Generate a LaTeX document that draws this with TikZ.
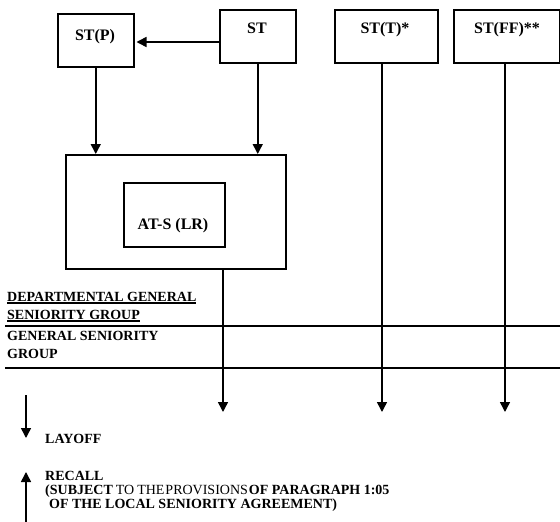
\documentclass[tikz,border=0pt]{standalone}
\usepackage{fontspec}
\setmainfont{Liberation Serif}
\usetikzlibrary{arrows.meta}
\newcommand\myul[1]{\setbox0\hbox{#1}\rlap{\rule[-2.6pt]{\wd0}{1.2pt}}\box0}
\begin{document}
\begin{tikzpicture}[x=1pt,y=-1pt,
  box/.style={draw,line width=1.5pt,rectangle,inner sep=0pt,anchor=north west},
  boxtext/.style={anchor=base,inner sep=0pt,font=\bfseries\fontsize{16}{18}\selectfont},
  lbl/.style={anchor=base west,inner sep=0pt,font=\bfseries\fontsize{14}{16}\selectfont},
  arr/.style={line width=1.5pt,-{Triangle[width=10pt,length=10pt]}},
  rule/.style={line width=1.5pt}]
\useasboundingbox (0,0) rectangle (560,522);
% top boxes
\node[box,minimum width=76pt,minimum height=53pt] (stp) at (57,13) {};
\node[box,minimum width=76pt,minimum height=53pt] (st) at (219,9) {};
\node[box,minimum width=103pt,minimum height=53pt] (stt) at (334,9) {};
\node[box,minimum width=106pt,minimum height=53pt] (stff) at (453,9) {};
\node[boxtext] (tstp) at (95,40) {ST(P)};
\node[boxtext] (tst) at (257,34) {ST};
\node[boxtext] (tstt) at (385,34) {ST(T)*};
\node[boxtext] (tstff) at (507,34) {ST(FF)**};
% big and inner box
\node[box,minimum width=220pt,minimum height=114pt] (big) at (65,154) {};
\node[box,minimum width=101pt,minimum height=64pt] (ats) at (123,182) {};
\node[boxtext] (tats) at (173,229) {AT-S (LR)};
% arrows
\coordinate (h) at (0,42);
\draw[arr,shorten >=2pt] (st.west |- h) -- (stp.east |- h);
\draw[arr] (stp.south) -- (stp.south |- big.north);
\draw[arr] (st.south) -- (st.south |- big.north);
\coordinate (e1) at (223,412);
\coordinate (e2) at (382,412);
\coordinate (e3) at (505,412);
\draw[arr] (big.south -| e1) -- (e1);
\draw[arr] (stt.south -| e2) -- (e2);
\draw[arr] (stff.south -| e3) -- (e3);
% horizontal rules
\coordinate (h1a) at (5,326); \coordinate (h1b) at (560,326);
\coordinate (h2a) at (5,368); \coordinate (h2b) at (560,368);
\draw[rule] (h1a) -- (h1b);
\draw[rule] (h2a) -- (h2b);
% group labels
\node[lbl] (d1) at (7,301) {\myul{DEPARTMENTAL GENERAL}};
\node[lbl] (d2) at (7,319) {\myul{SENIORITY GROUP}};
\node[lbl] (g1) at (7,340) {GENERAL SENIORITY};
\node[lbl] (g2) at (7,358) {GROUP};
% legend
\coordinate (lt) at (26,395); \coordinate (lb) at (26,438);
\draw[arr] (lt) -- (lb);
\node[lbl] (layoff) at (45,443) {LAYOFF};
\coordinate (rb) at (26,522); \coordinate (rt) at (26,472);
\draw[arr] (rb) -- (rt);
\node[lbl] (r1) at (45,480) {RECALL};
\node[lbl] (r2) at (45,494) {(SUBJECT\hspace{3pt}{\mdseries TO\hspace{3pt}THE\hspace{1pt}PROVISIONS}\hspace{1pt}OF PARAGRAPH 1:05};
\node[lbl] (r3) at (49,508) {OF THE LOCAL SENIORITY AGREEMENT)};
\end{tikzpicture}
\end{document}
